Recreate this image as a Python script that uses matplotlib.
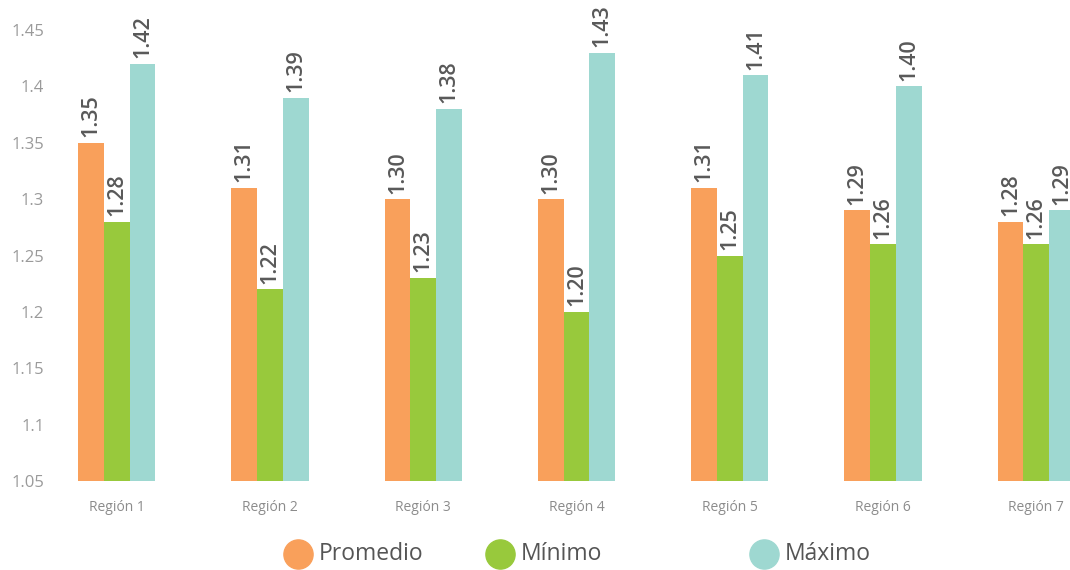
import matplotlib
matplotlib.use("Agg")
import matplotlib.pyplot as plt
from matplotlib.lines import Line2D
import numpy as np

regions = ["Región 1", "Región 2", "Región 3", "Región 4", "Región 5", "Región 6", "Región 7"]
promedio = [1.35, 1.31, 1.30, 1.30, 1.31, 1.29, 1.28]
minimo = [1.28, 1.22, 1.23, 1.20, 1.25, 1.26, 1.26]
maximo = [1.42, 1.39, 1.38, 1.43, 1.41, 1.40, 1.29]
series_names = ["Promedio", "Mínimo", "Máximo"]
yticks = [1.05, 1.1, 1.15, 1.2, 1.25, 1.3, 1.35, 1.4, 1.45]

colors = ["#F9A05B", "#98C93C", "#9ED8D1"]
plt.rcParams["font.family"] = ["Open Sans", "DejaVu Sans"]

fig = plt.figure(figsize=(10.7, 5.7), dpi=100)
ax = fig.add_axes([40 / 1070, 89 / 570, 1 - 40 / 1070, (481 - 30) / 570])

x = np.arange(len(regions))
w = 0.168
for i, (vals, c) in enumerate(zip([promedio, minimo, maximo], colors)):
    pos = x + (i - 1) * w
    ax.bar(pos, [v - 1.05 for v in vals], w, bottom=1.05, color=c, linewidth=0)
    for p, v in zip(pos, vals):
        ax.annotate(f"{v:.2f}", (p, v), xytext=(0, 4), textcoords="offset points",
                    rotation=90, ha="center", va="bottom", fontsize=15.5,
                    fontweight="semibold", color="#595959", annotation_clip=False)

ax.set_ylim(1.05, 1.45)
ax.set_xlim(-0.5, 6.22)
ax.set_yticks(yticks)
ax.set_yticklabels([f"{t:g}" for t in yticks])
ax.set_xticks(x)
ax.set_xticklabels(regions)
ax.tick_params(axis="y", length=0, labelsize=12, labelcolor="#9a9a9a", pad=-3)
ax.tick_params(axis="x", length=0, labelsize=10, labelcolor="#8c8c8c", pad=14)
for s in ax.spines.values():
    s.set_visible(False)

# legend row, placed by hand along the bottom of the figure
leg_x = [298, 500, 764]
for lx, name, c in zip(leg_x, series_names, colors):
    fig.lines.append(Line2D([lx / 1070], [1 - 554 / 570], marker="o", markersize=21,
                            color=c, linestyle="none", transform=fig.transFigure))
    fig.text((lx + 21) / 1070, 1 - 554 / 570, name, ha="left", va="center",
             fontsize=16.5, color="#555555")

fig.savefig("out.png", dpi=100)
